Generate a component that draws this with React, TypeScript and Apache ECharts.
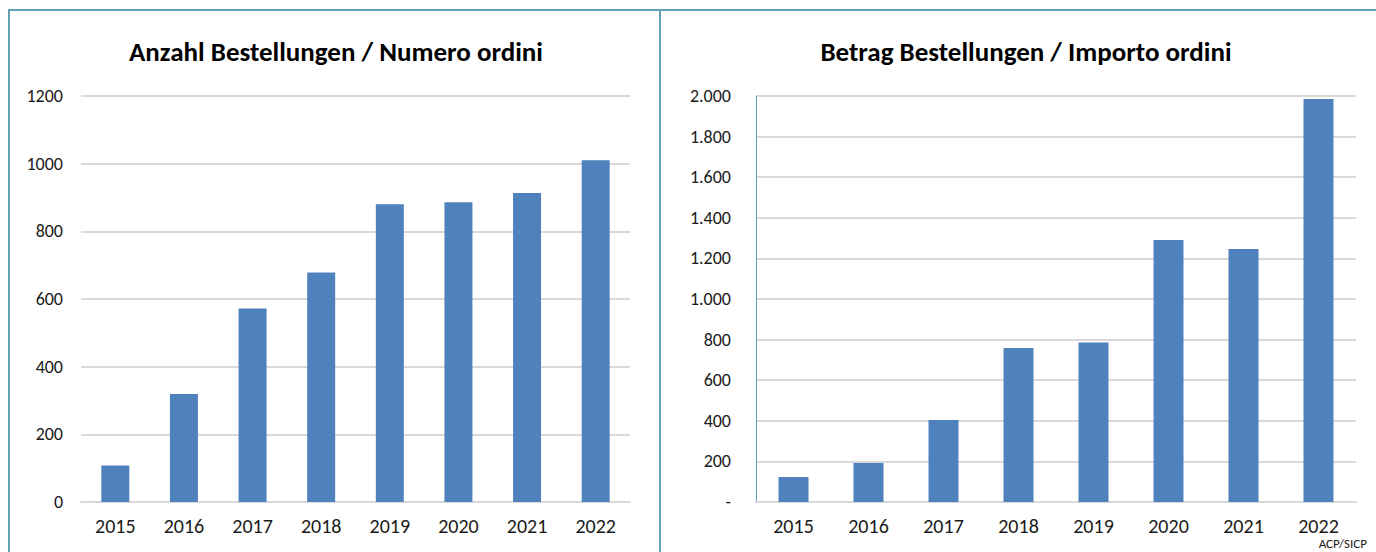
import React, { useEffect, useRef } from "react";
import * as echarts from "echarts";

const years = ["2015", "2016", "2017", "2018", "2019", "2020", "2021", "2022"];
const orderCount = [108, 319, 572, 678, 880, 886, 913, 1010];
const orderAmount = [123, 192, 404, 759, 786, 1291, 1246, 1985];
const leftTitle = "Anzahl Bestellungen / Numero ordini";
const rightTitle = "Betrag Bestellungen / Importo ordini";
const sourceNote = "ACP/SICP";

const FONT = "Carlito, Lato, 'Open Sans', sans-serif";
const BAR = "#4f81bd";
const GRID = "#d9d9d9";
const FRAME = "#5fa1b5";
const TEXT = "#1a1a1a";

const fmtDe = (v: number) =>
  v === 0 ? "-" : String(v).replace(/\B(?=(\d{3})+(?!\d))/g, ".");

export default function App() {
  const ref = useRef<HTMLDivElement>(null);
  useEffect(() => {
    if (!ref.current) return;
    const chart = echarts.init(ref.current, undefined, { renderer: "svg" });
    const xLabel = { color: TEXT, fontFamily: FONT, fontSize: 20, margin: 14, lineHeight: 20 };
    const yLabel = { color: TEXT, fontFamily: FONT, fontSize: 18 };
    const titleStyle = { fontFamily: FONT, fontSize: 27, fontWeight: "bold", color: "#000" };
    chart.setOption({
      animation: false,
      backgroundColor: "#ffffff",
      textStyle: { fontFamily: FONT },
      title: [
        { text: leftTitle, left: 331, top: 33, textAlign: "center", textStyle: titleStyle },
        { text: rightTitle, left: 1021, top: 33, textAlign: "center", textStyle: titleStyle },
      ],
      grid: [
        { left: 81, right: 746, top: 96, height: 406 },
        { left: 756, right: 20, top: 96, height: 406 },
      ],
      xAxis: [
        {
          type: "category",
          gridIndex: 0,
          data: years,
          axisLine: { lineStyle: { color: GRID, width: 2 } },
          axisTick: { show: false },
          axisLabel: xLabel,
        },
        {
          type: "category",
          gridIndex: 1,
          data: years,
          axisLine: { lineStyle: { color: GRID, width: 2 } },
          axisTick: { show: false },
          axisLabel: xLabel,
        },
      ],
      yAxis: [
        {
          type: "value",
          gridIndex: 0,
          min: 0,
          max: 1200,
          interval: 200,
          axisLine: { show: false },
          axisTick: { show: false },
          splitLine: { lineStyle: { color: GRID, width: 2 } },
          axisLabel: { ...yLabel, margin: 18, formatter: (v: number) => String(v) },
        },
        {
          type: "value",
          gridIndex: 1,
          min: 0,
          max: 2000,
          interval: 200,
          axisLine: { show: true, lineStyle: { color: FRAME, width: 1 } },
          axisTick: { show: false },
          splitLine: { lineStyle: { color: GRID, width: 2 } },
          axisLabel: { ...yLabel, margin: 25, formatter: fmtDe },
        },
      ],
      series: [
        {
          type: "bar",
          xAxisIndex: 0,
          yAxisIndex: 0,
          data: orderCount,
          barWidth: 28,
          itemStyle: { color: BAR },
        },
        {
          type: "bar",
          xAxisIndex: 1,
          yAxisIndex: 1,
          data: orderAmount,
          barWidth: 30,
          itemStyle: { color: BAR },
        },
      ],
      graphic: [
        {
          type: "line",
          shape: { x1: 8, y1: 10, x2: 1376, y2: 10 },
          style: { stroke: FRAME, lineWidth: 2 },
        },
        {
          type: "line",
          shape: { x1: 9, y1: 10, x2: 9, y2: 552 },
          style: { stroke: FRAME, lineWidth: 2 },
        },
        {
          type: "line",
          shape: { x1: 660, y1: 10, x2: 660, y2: 552 },
          style: { stroke: FRAME, lineWidth: 2 },
        },
        {
          type: "text",
          right: 9,
          top: 537,
          style: { text: sourceNote, fontFamily: FONT, fontSize: 13, lineHeight: 13, fill: TEXT },
        },
      ],
    });
    return () => chart.dispose();
  }, []);
  return (
    <div
      ref={ref}
      style={{ position: "fixed", left: 0, top: 0, width: 1376, height: 552 }}
    />
  );
}
